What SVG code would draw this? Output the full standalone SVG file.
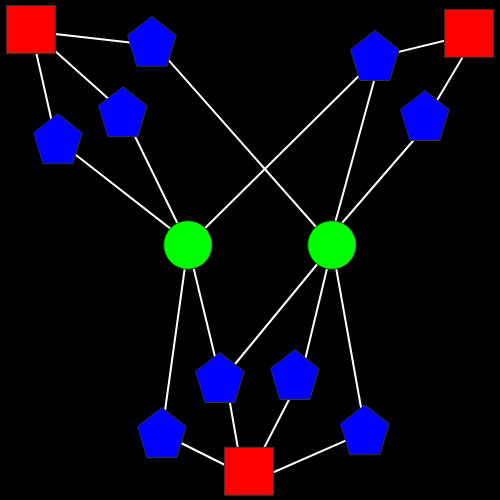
<svg xmlns="http://www.w3.org/2000/svg" width="500" height="500" viewBox="0 0 500 500">
<style>
.edge{stroke:#ffffff;stroke-width:2;fill:none}
.sq{fill:#ff0000;stroke:#333333;stroke-width:1}
.pent{fill:#0000ff;stroke:#333333;stroke-width:1}
.circ{fill:#00ff00;stroke:#333333;stroke-width:1}
</style>
<defs>
<polygon id="pentagon" points="0,-25 24.3,-6 15,25 -15,25 -24.3,-6"/>
</defs>
<rect width="500" height="500" fill="#000000"/>
<g id="connectors">
<line class="edge" x1="31" y1="31.2" x2="152" y2="44.9"/>
<line class="edge" x1="31" y1="29.5" x2="123" y2="111.7"/>
<line class="edge" x1="31" y1="29.5" x2="56" y2="140"/>
<line class="edge" x1="152" y1="41.3" x2="332" y2="245"/>
<line class="edge" x1="123" y1="111.7" x2="188" y2="245"/>
<line class="edge" x1="58" y1="141" x2="188" y2="242.4"/>
<line class="edge" x1="469" y1="34.7" x2="375" y2="57.6"/>
<line class="edge" x1="477" y1="33" x2="428" y2="115.5"/>
<line class="edge" x1="379.5" y1="55.5" x2="188" y2="245"/>
<line class="edge" x1="381" y1="55.5" x2="329" y2="245"/>
<line class="edge" x1="435" y1="115.5" x2="323" y2="245"/>
<line class="edge" x1="188" y1="245" x2="220" y2="377.5"/>
<line class="edge" x1="188" y1="245" x2="162" y2="432.5"/>
<line class="edge" x1="333" y1="245" x2="224" y2="377.5"/>
<line class="edge" x1="332.7" y1="245" x2="301.5" y2="374.5"/>
<line class="edge" x1="332" y1="245" x2="365" y2="429.7"/>
<line class="edge" x1="249" y1="477" x2="162" y2="433.5"/>
<line class="edge" x1="242" y1="471.3" x2="225.5" y2="377.5"/>
<line class="edge" x1="252" y1="471.3" x2="302" y2="374.5"/>
<line class="edge" x1="249" y1="483" x2="365" y2="432.2"/>
</g>
<g id="sq-tl"><rect class="sq" x="6.5" y="5.5" width="49" height="48"/></g>
<g id="sq-tr"><rect class="sq" x="444.5" y="9.3" width="49" height="48"/></g>
<g id="sq-b"><rect class="sq" x="224.5" y="447.3" width="49" height="48"/></g>
<g id="c1"><circle class="circ" cx="188" cy="245" r="24.3"/></g>
<g id="c2"><circle class="circ" cx="332" cy="245" r="24.3"/></g>
<g id="p1"><use href="#pentagon" class="pent" x="152" y="41.3"/></g>
<g id="p2"><use href="#pentagon" class="pent" x="123" y="111.7"/></g>
<g id="p3"><use href="#pentagon" class="pent" x="58" y="138.7"/></g>
<g id="p4"><use href="#pentagon" class="pent" x="375" y="55.5"/></g>
<g id="p5"><use href="#pentagon" class="pent" x="425" y="115.5"/></g>
<g id="p6"><use href="#pentagon" class="pent" x="220" y="377.5"/></g>
<g id="p7"><use href="#pentagon" class="pent" x="295" y="374.5"/></g>
<g id="p8"><use href="#pentagon" class="pent" x="162" y="432.5"/></g>
<g id="p9"><use href="#pentagon" class="pent" x="365" y="429.7"/></g>
</svg>
